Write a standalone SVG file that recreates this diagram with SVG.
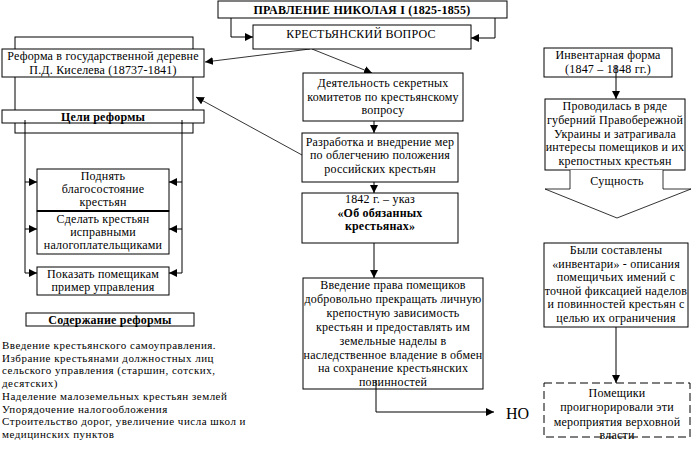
<svg xmlns="http://www.w3.org/2000/svg" width="692" height="450" viewBox="0 0 692 450">
<style>
text{font-family:"Liberation Serif","Times New Roman","DejaVu Serif",serif}
.b{fill:#fff;stroke:#000;stroke-width:1}
.d{fill:#fff;stroke:#000;stroke-width:1;stroke-dasharray:8 4}
.t{font-size:12px;fill:#000;text-anchor:middle;letter-spacing:0.2px}
.l{font-size:11px;fill:#000;letter-spacing:0.5px}
.bd{font-weight:bold}
.c{fill:none;stroke:#000;stroke-width:1}
.c2{fill:none;stroke:#000;stroke-width:0.8}
</style>
<defs>
<marker id="ar" markerUnits="userSpaceOnUse" markerWidth="8" markerHeight="8" refX="8" refY="4" orient="auto">
<path d="M0,0 L8,4 L0,8 z" fill="#000"/>
</marker>
</defs>
<rect width="692" height="450" fill="#fff"/>

<g id="frame">
<rect class="c" x="15" y="37" width="178" height="96"/>
</g>

<g id="connectors">
<path class="c" d="M231,18 V37 H253" marker-end="url(#ar)"/>
<path class="c" d="M495,18 V38 H471" marker-end="url(#ar)"/>
<path class="c2" d="M310,49 L205,62" marker-end="url(#ar)"/>
<path class="c2" d="M312,49 L372,73" marker-end="url(#ar)"/>
<path class="c2" d="M302,155 L196,97" marker-end="url(#ar)"/>
<path class="c" d="M374,121 V133" marker-end="url(#ar)"/>
<path class="c" d="M374,182 V193" marker-end="url(#ar)"/>
<path class="c" d="M374,243 V278" marker-end="url(#ar)"/>
<path class="c" d="M376,384 V412 H494" marker-end="url(#ar)"/>
<path class="c" d="M25,121 V273"/>
<path class="c" d="M25,182 H37" marker-end="url(#ar)"/>
<path class="c" d="M25,229 H37" marker-end="url(#ar)"/>
<path class="c" d="M25,273 H37" marker-end="url(#ar)"/>
<path class="c" d="M182,121 V273"/>
<path class="c" d="M182,182 H169" marker-end="url(#ar)"/>
<path class="c" d="M182,229 H169" marker-end="url(#ar)"/>
<path class="c" d="M182,273 H169" marker-end="url(#ar)"/>
<path class="c" d="M616,65 V99" marker-end="url(#ar)"/>
<path class="c" d="M616,327 V383" marker-end="url(#ar)"/>
</g>

<g id="title">
<rect class="b" x="218" y="1" width="289" height="17"/>
<text class="t bd" x="362" y="14" letter-spacing="0.6">ПРАВЛЕНИЕ НИКОЛАЯ I (1825-1855)</text>
</g>

<g id="krest">
<rect class="b" x="253" y="25" width="218" height="24"/>
<text class="t" x="361" y="38">КРЕСТЬЯНСКИЙ ВОПРОС</text>
</g>

<g id="kiselev">
<rect class="b" x="2" y="49" width="202" height="28"/>
<text class="t" x="103" y="60">Реформа в государственной деревне</text>
<text class="t" x="103" y="74">П.Д. Киселева (18737-1841)</text>
</g>

<g id="goals">
<rect class="b" x="2" y="110" width="202" height="13"/>
<text class="t bd" x="103" y="121">Цели  реформы</text>
</g>
<path d="M25,120 V124 M182,120 V124" stroke="#000" fill="none"/>

<g id="goal1">
<rect class="b" x="37" y="169" width="132" height="42"/>
<text class="t" x="103" y="180">Поднять</text>
<text class="t" x="103" y="193">благосостояние</text>
<text class="t" x="103" y="206">крестьян</text>
</g>
<g id="goal2">
<rect class="b" x="37" y="211" width="132" height="43"/>
<line x1="37" y1="211" x2="169" y2="211" stroke="#000" stroke-width="2"/>
<text class="t" x="103" y="223">Сделать крестьян</text>
<text class="t" x="103" y="236">исправными</text>
<text class="t" x="103" y="249">налогоплательщиками</text>
</g>
<g id="goal3">
<rect class="b" x="37" y="267" width="132" height="28"/>
<text class="t" x="103" y="278">Показать помещикам</text>
<text class="t" x="103" y="291">пример управления</text>
</g>

<g id="content">
<rect class="b" x="26" y="313" width="168" height="13"/>
<text class="t bd" x="110" y="324">Содержание реформы</text>
</g>
<g id="content-text">
<text class="l" x="2" y="349">Введение крестьянского самоуправления.</text>
<text class="l" x="2" y="361.7">Избрание крестьянами должностных лиц</text>
<text class="l" x="2" y="374.4">сельского управления (старшин, сотских,</text>
<text class="l" x="2" y="387.1">десятских)</text>
<text class="l" x="2" y="399.8">Наделение малоземельных крестьян землей</text>
<text class="l" x="2" y="412.5">Упорядочение налогообложения</text>
<text class="l" x="2" y="425.2">Строительство дорог, увеличение числа школ и</text>
<text class="l" x="2" y="437.9">медицинских пунктов</text>
</g>

<g id="deyat">
<rect class="b" x="303" y="73" width="160" height="48"/>
<text class="t" x="383" y="87">Деятельность секретных</text>
<text class="t" x="383" y="101">комитетов по крестьянскому</text>
<text class="t" x="383" y="114">вопросу</text>
</g>

<g id="razrab">
<rect class="b" x="302" y="133" width="156" height="49"/>
<text class="t" x="380" y="146">Разработка и внедрение мер</text>
<text class="t" x="380" y="159">по облегчению положения</text>
<text class="t" x="380" y="173">российских крестьян</text>
</g>

<g id="ukaz">
<rect class="b" x="302" y="193" width="156" height="50"/>
<text class="t" x="380" y="203">1842 г. – указ</text>
<text class="t bd" x="380" y="217">«Об обязанных</text>
<text class="t bd" x="380" y="230">крестьянах»</text>
</g>

<g id="vvedenie">
<rect class="b" x="303" y="278" width="180" height="111"/>
<text class="t" x="393" y="289">Введение права помещиков</text>
<text class="t" x="393" y="303">добровольно прекращать личную</text>
<text class="t" x="393" y="317">крепостную зависимость</text>
<text class="t" x="393" y="331">крестьян и предоставлять им</text>
<text class="t" x="393" y="345">земельные наделы в</text>
<text class="t" x="393" y="359">наследственное владение в обмен</text>
<text class="t" x="393" y="372">на сохранение крестьянских</text>
<text class="t" x="393" y="386">повинностей</text>
</g>
<path class="c" d="M376,380 V389"/>

<g id="no">
<text x="506" y="419" font-size="16" fill="#000">НО</text>
</g>

<g id="invent">
<rect class="b" x="544" y="48" width="128" height="29"/>
<text class="t" x="608" y="59">Инвентарная форма</text>
<text class="t" x="608" y="73">(1847 – 1848 гг.)</text>
</g>
<path class="c" d="M616,65 V77"/>

<g id="provod">
<rect class="b" x="545" y="99" width="140" height="71"/>
<text class="t" x="615" y="110">Проводилась в ряде</text>
<text class="t" x="615" y="124">губерний Правобережной</text>
<text class="t" x="615" y="138">Украины и затрагивала</text>
<text class="t" x="615" y="151">интересы помещиков и их</text>
<text class="t" x="615" y="165">крепостных крестьян</text>
</g>

<g id="sushnost">
<path d="M570,170 V189 H545 L617,218 L691,189 H663 V170" fill="#fff" stroke="#000" stroke-width="0.8"/>
<text class="t" x="617" y="185">Сущность</text>
</g>

<g id="byli">
<rect class="b" x="544" y="243" width="144" height="84"/>
<text class="t" x="616" y="254">Были составлены</text>
<text class="t" x="616" y="267.5">«инвентари» - описания</text>
<text class="t" x="616" y="281">помещичьих имений с</text>
<text class="t" x="616" y="294.5">точной фиксацией наделов</text>
<text class="t" x="616" y="308">и повинностей крестьян с</text>
<text class="t" x="616" y="321.5">целью их ограничения</text>
</g>

<g id="pomeshiki">
<rect class="d" x="544" y="383" width="146" height="54"/>
<text class="t" x="617" y="397">Помещики</text>
<text class="t" x="617" y="411">проигнорировали эти</text>
<text class="t" x="617" y="426">мероприятия верховной</text>
<text class="t" x="617" y="439">власти</text>
</g>
</svg>
